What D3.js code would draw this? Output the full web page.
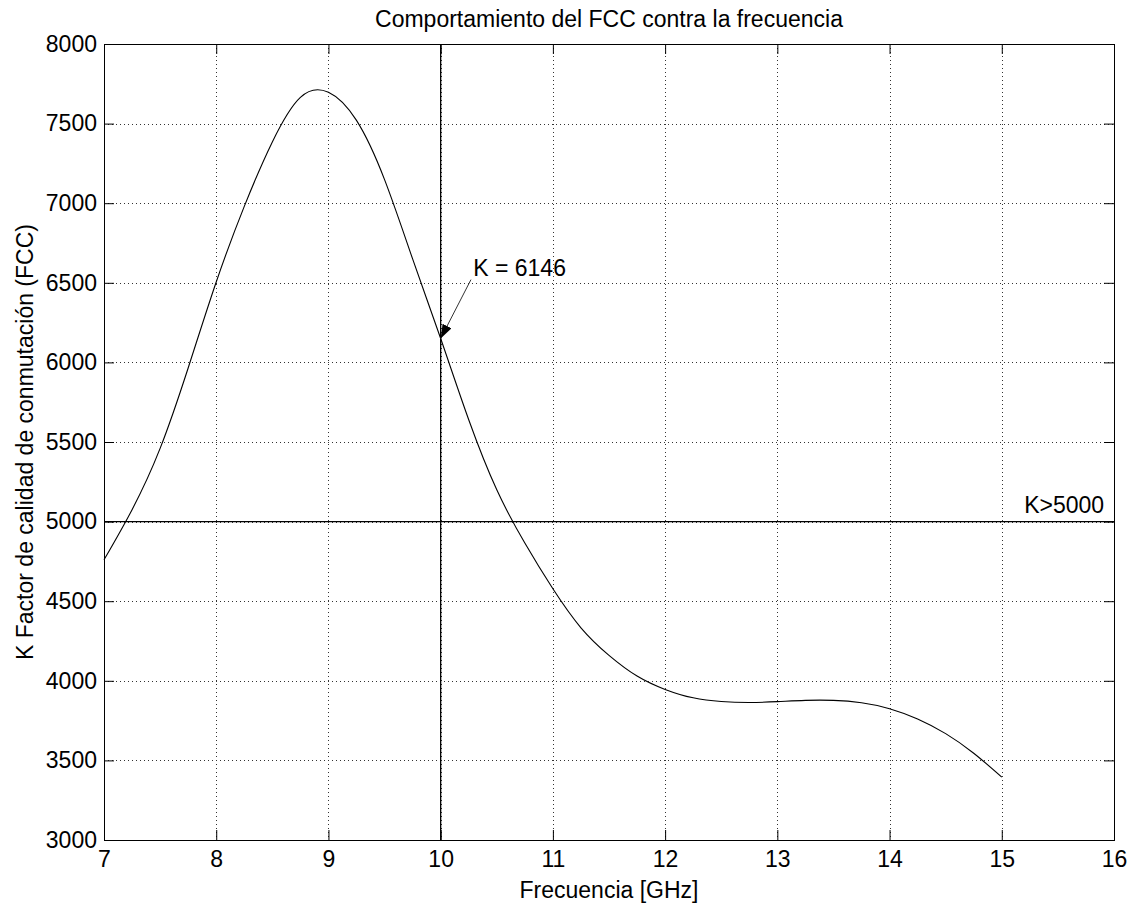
<!DOCTYPE html>
<html>
<head>
<meta charset="utf-8">
<script src="https://cdn.jsdelivr.net/npm/d3@7"></script>
<style>
  html, body { margin: 0; padding: 0; background: #fff; }
  svg { display: block; font-family: "Liberation Sans", Arial, sans-serif; }
</style>
</head>
<body>
<div id="chart"></div>
<script>
// datos
const freq = [7, 7.25, 7.5, 7.75, 8, 8.25, 8.5, 8.75, 9, 9.25, 9.5, 9.75, 10,
  10.25, 10.5, 10.75, 11, 11.25, 11.5, 11.75, 12, 12.25, 12.5, 12.75, 13,
  13.25, 13.5, 13.75, 14, 14.25, 14.5, 14.75, 15];
const fcc = [4760, 5075, 5460, 5965, 6505, 6980, 7385, 7665, 7697, 7520, 7148, 6650, 6150,
  5640, 5200, 4865, 4578, 4333, 4160, 4030, 3946, 3893, 3870, 3864, 3869,
  3877, 3877, 3862, 3825, 3760, 3668, 3545, 3395];
const xTicks = [7, 8, 9, 10, 11, 12, 13, 14, 15, 16];
const yTicks = [3000, 3500, 4000, 4500, 5000, 5500, 6000, 6500, 7000, 7500, 8000];
const xDomain = [7, 16];
const yDomain = [3000, 8000];
const kLimit = 5000;     // linea horizontal K>5000
const fMark = 10;        // linea vertical en 10 GHz

const width = 1132, height = 907;
const margin = {top: 44, right: 18, bottom: 67, left: 104};
const w = width - margin.left - margin.right;
const h = height - margin.top - margin.bottom;
const fontSize = 23;

const svg = d3.select('#chart').append('svg')
  .attr('width', width)
  .attr('height', height);

svg.append('defs').append('marker')
  .attr('id', 'head')
  .attr('viewBox', '0 0 14 10')
  .attr('refX', 14).attr('refY', 5)
  .attr('markerWidth', 14).attr('markerHeight', 10)
  .attr('markerUnits', 'userSpaceOnUse')
  .attr('orient', 'auto')
  .append('path')
  .attr('d', 'M0,0 L14,5 L0,10 Z')
  .style('fill', '#000');

const g = svg.append('g').attr('transform', `translate(${margin.left},${margin.top})`);

const x = d3.scaleLinear().domain(xDomain).range([0, w]);
const y = d3.scaleLinear().domain(yDomain).range([h, 0]);

// ---- rejilla punteada ----
g.append('g').selectAll('line').data(xTicks.slice(1, -1)).join('line')
  .attr('x1', d => Math.round(x(d)) + 0.5).attr('x2', d => Math.round(x(d)) + 0.5)
  .attr('y1', 0).attr('y2', h)
  .style('stroke', '#333').style('stroke-dasharray', '1,3');
g.append('g').selectAll('line').data(yTicks.slice(1, -1)).join('line')
  .attr('y1', d => Math.round(y(d)) + 0.5).attr('y2', d => Math.round(y(d)) + 0.5)
  .attr('x1', 0).attr('x2', w)
  .style('stroke', '#333').style('stroke-dasharray', '1,3');

// ---- ejes (ticks hacia adentro, estilo matlab) ----
g.append('g').attr('transform', `translate(0,${h})`)
  .call(d3.axisBottom(x).tickValues(xTicks).tickSizeInner(-10).tickSizeOuter(0).tickPadding(11)
    .tickFormat(d3.format('d')));
g.append('g')
  .call(d3.axisLeft(y).tickValues(yTicks).tickSizeInner(-10).tickSizeOuter(0).tickPadding(7)
    .tickFormat(d3.format('d')));
g.append('g')
  .call(d3.axisTop(x).tickValues(xTicks).tickSizeInner(-10).tickSizeOuter(0).tickFormat(''));
g.append('g').attr('transform', `translate(${w},0)`)
  .call(d3.axisRight(y).tickValues(yTicks).tickSizeInner(-10).tickSizeOuter(0).tickFormat(''));

g.selectAll('.domain').remove();
g.selectAll('.tick line').style('stroke', '#000');
g.selectAll('.tick text')
  .style('font-size', fontSize + 'px')
  .style('font-family', '"Liberation Sans", Arial, sans-serif')
  .style('fill', '#000');

// caja
g.append('rect')
  .attr('x', 0.5).attr('y', 0.5)
  .attr('width', w).attr('height', h)
  .style('fill', 'none').style('stroke', '#000');

// ---- lineas de referencia ----
g.append('line')
  .attr('x1', 0).attr('x2', w)
  .attr('y1', y(kLimit)).attr('y2', y(kLimit))
  .style('stroke', '#000').style('stroke-width', 1.1);
g.append('line')
  .attr('x1', x(fMark)).attr('x2', x(fMark))
  .attr('y1', 0).attr('y2', h)
  .style('stroke', '#000').style('stroke-width', 1.3);

// ---- curva FCC ----
const line = d3.line()
  .x((d, i) => x(freq[i]))
  .y(d => y(d))
  .curve(d3.curveNatural);
g.append('path')
  .attr('d', line(fcc))
  .style('fill', 'none')
  .style('stroke', '#000')
  .style('stroke-width', 1.1);

// ---- anotaciones ----
const kAt10 = fcc[freq.indexOf(fMark)];
g.append('line')
  .attr('x1', x(10.27)).attr('y1', y(6520))
  .attr('x2', x(fMark)).attr('y2', y(kAt10))
  .style('stroke', '#333').style('stroke-width', 1)
  .attr('marker-end', 'url(#head)');
g.append('text')
  .attr('x', x(10.29)).attr('y', y(6545))
  .style('font-size', fontSize + 'px')
  .text('K = 6146');
g.append('text')
  .attr('x', x(15.2)).attr('y', y(5055))
  .style('font-size', fontSize + 'px')
  .text('K>5000');

// ---- titulos ----
svg.append('text')
  .attr('x', margin.left + w / 2).attr('y', 27)
  .attr('text-anchor', 'middle')
  .style('font-size', fontSize + 'px')
  .text('Comportamiento del FCC contra la frecuencia');
svg.append('text')
  .attr('x', margin.left + w / 2).attr('y', 898)
  .attr('text-anchor', 'middle')
  .style('font-size', fontSize + 'px')
  .text('Frecuencia [GHz]');
svg.append('text')
  .attr('transform', `translate(33,${margin.top + h / 2}) rotate(-90)`)
  .attr('text-anchor', 'middle')
  .style('font-size', fontSize + 'px')
  .text('K Factor de calidad de conmutación (FCC)');
</script>
</body>
</html>
